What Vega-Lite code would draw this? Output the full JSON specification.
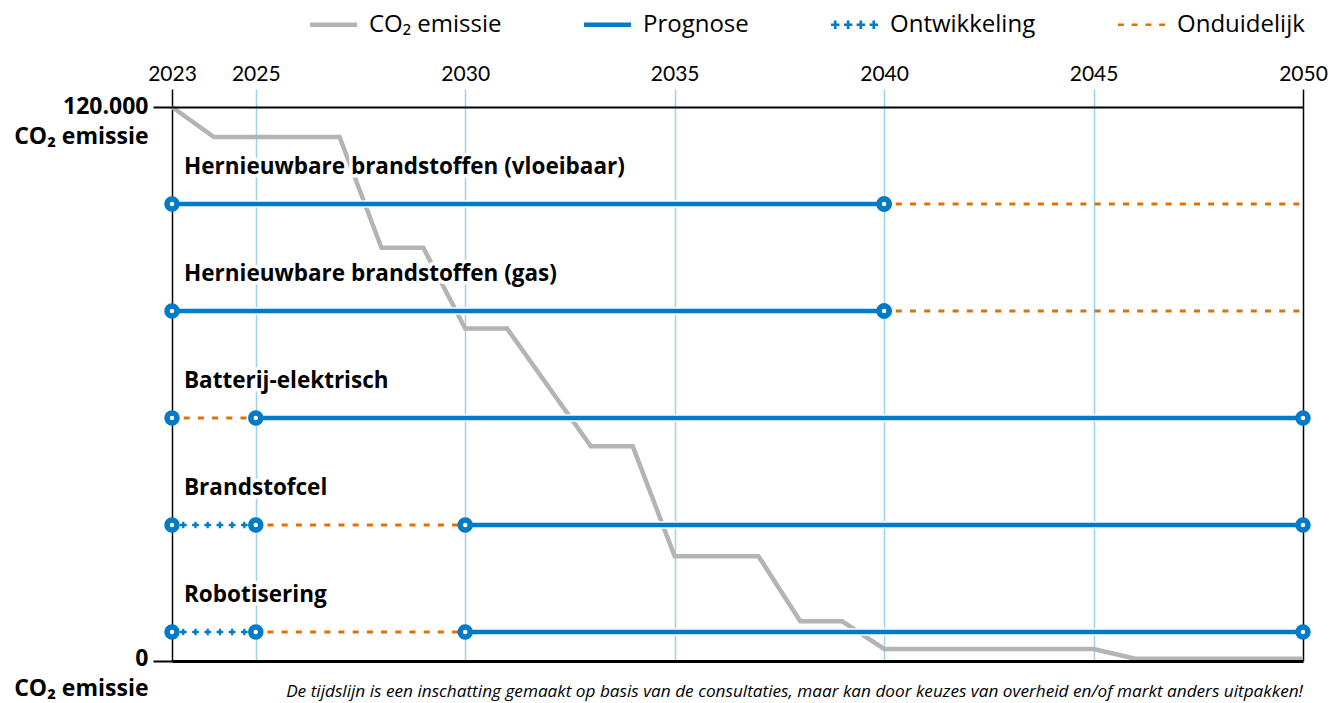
{
  "$schema": "https://vega.github.io/schema/vega-lite/v6.json",
  "width": 1131,
  "height": 554,
  "autosize": {"type": "none"},
  "padding": {"left": 172, "top": 107, "right": 27, "bottom": 42},
  "background": "white",
  "config": {"view": {"stroke": null}, "font": "Open Sans"},
  "datasets": {
    "emissie": [
      {"jaar": 2023, "co2": 120000, "reeks": "CO₂ emissie"},
      {"jaar": 2024, "co2": 113500, "reeks": "CO₂ emissie"},
      {"jaar": 2027, "co2": 113500, "reeks": "CO₂ emissie"},
      {"jaar": 2028, "co2": 89500, "reeks": "CO₂ emissie"},
      {"jaar": 2029, "co2": 89500, "reeks": "CO₂ emissie"},
      {"jaar": 2030, "co2": 72000, "reeks": "CO₂ emissie"},
      {"jaar": 2031, "co2": 72000, "reeks": "CO₂ emissie"},
      {"jaar": 2033, "co2": 46500, "reeks": "CO₂ emissie"},
      {"jaar": 2034, "co2": 46500, "reeks": "CO₂ emissie"},
      {"jaar": 2035, "co2": 22700, "reeks": "CO₂ emissie"},
      {"jaar": 2037, "co2": 22700, "reeks": "CO₂ emissie"},
      {"jaar": 2038, "co2": 8600, "reeks": "CO₂ emissie"},
      {"jaar": 2039, "co2": 8600, "reeks": "CO₂ emissie"},
      {"jaar": 2040, "co2": 2600, "reeks": "CO₂ emissie"},
      {"jaar": 2045, "co2": 2600, "reeks": "CO₂ emissie"},
      {"jaar": 2046, "co2": 500, "reeks": "CO₂ emissie"},
      {"jaar": 2050, "co2": 500, "reeks": "CO₂ emissie"}
    ],
    "segmenten": [
      {"categorie": "Hernieuwbare brandstoffen (vloeibaar)", "van": 2023, "tot": 2040, "status": "Prognose"},
      {"categorie": "Hernieuwbare brandstoffen (vloeibaar)", "van": 2040, "tot": 2050, "status": "Onduidelijk"},
      {"categorie": "Hernieuwbare brandstoffen (gas)", "van": 2023, "tot": 2040, "status": "Prognose"},
      {"categorie": "Hernieuwbare brandstoffen (gas)", "van": 2040, "tot": 2050, "status": "Onduidelijk"},
      {"categorie": "Batterij-elektrisch", "van": 2023, "tot": 2025, "status": "Onduidelijk"},
      {"categorie": "Batterij-elektrisch", "van": 2025, "tot": 2050, "status": "Prognose"},
      {"categorie": "Brandstofcel", "van": 2023, "tot": 2025, "status": "Ontwikkeling"},
      {"categorie": "Brandstofcel", "van": 2025, "tot": 2030, "status": "Onduidelijk"},
      {"categorie": "Brandstofcel", "van": 2030, "tot": 2050, "status": "Prognose"},
      {"categorie": "Robotisering", "van": 2023, "tot": 2025, "status": "Ontwikkeling"},
      {"categorie": "Robotisering", "van": 2025, "tot": 2030, "status": "Onduidelijk"},
      {"categorie": "Robotisering", "van": 2030, "tot": 2050, "status": "Prognose"}
    ]
  },
  "layer": [
    {
      "layer": [
        {
          "data": {"name": "emissie"},
          "mark": {"type": "line", "strokeWidth": 4.5, "strokeJoin": "miter", "strokeCap": "butt"},
          "encoding": {
            "x": {
              "field": "jaar",
              "type": "quantitative",
              "scale": {"domain": [2023, 2050], "nice": false, "zero": false},
              "axis": {
                "orient": "top",
                "values": [2023, 2025, 2030, 2035, 2040, 2045, 2050],
                "format": "d",
                "title": null,
                "labelFlush": false,
                "labelFont": "Lato",
                "labelFontSize": 21,
                "labelColor": "black",
                "labelBaseline": "alphabetic",
                "labelPadding": 9,
                "tickSize": 18,
                "tickWidth": 1.5,
                "tickColor": {"condition": {"test": "datum.value == 2023 || datum.value == 2050", "value": "black"}, "value": "#9dd2ec"},
                "grid": true,
                "gridWidth": 1.5,
                "gridColor": {"condition": {"test": "datum.value == 2023 || datum.value == 2050", "value": "black"}, "value": "#9dd2ec"},
                "domain": false,
                "zindex": 0
              }
            },
            "y": {
              "field": "co2",
              "type": "quantitative",
              "scale": {"domain": [0, 120000], "nice": false, "zero": true},
              "axis": {
                "values": [0, 120000],
                "title": null,
                "labelExpr": "datum.value == 0 ? ['0', 'CO₂ emissie'] : ['120.000', 'CO₂ emissie']",
                "labelFont": "Open Sans",
                "labelFontWeight": "bold",
                "labelFontSize": 23,
                "labelColor": "black",
                "labelAlign": "right",
                "labelBaseline": "top",
                "labelLineHeight": 30,
                "labelOffset": {"condition": {"test": "datum.value == 0", "value": -14}, "value": -12},
                "labelPadding": 5,
                "labelOverlap": false,
                "labelBound": false,
                "labelFlush": false,
                "tickSize": 19,
                "tickWidth": 2,
                "tickColor": "black",
                "grid": true,
                "gridColor": "black",
                "gridWidth": {"condition": {"test": "datum.value == 0", "value": 3}, "value": 2},
                "domain": false,
                "zindex": 1
              }
            },
            "color": {
              "field": "reeks",
              "type": "nominal",
              "scale": {
                "domain": ["CO₂ emissie", "Prognose", "Ontwikkeling", "Onduidelijk"],
                "range": ["#b4b4b4", "#007bc7", "#007bc7", "#e17000"]
              },
              "legend": {
                "title": null,
                "orient": "none",
                "legendX": 138,
                "legendY": -106,
                "direction": "horizontal",
                "padding": 0,
                "symbolSize": 2209,
                "symbolType": "stroke",
                "labelFont": "Open Sans",
                "labelFontSize": 24,
                "labelColor": "black",
                "labelOffset": 12,
                "columnPadding": 82,
                "labelLimit": 300,
                "encode": {
                  "symbols": {
                    "update": {
                      "shape": {"signal": "datum.value === 'Ontwikkeling' ? 'M-1,-0.057L-0.64,-0.057L-0.64,0.057L-1,0.057Z M-0.877,-0.18L-0.763,-0.18L-0.763,0.18L-0.877,0.18Z M-0.45,-0.057L-0.09,-0.057L-0.09,0.057L-0.45,0.057Z M-0.327,-0.18L-0.213,-0.18L-0.213,0.18L-0.327,0.18Z M0.09,-0.057L0.45,-0.057L0.45,0.057L0.09,0.057Z M0.213,-0.18L0.327,-0.18L0.327,0.18L0.213,0.18Z M0.64,-0.057L1,-0.057L1,0.057L0.64,0.057Z M0.763,-0.18L0.877,-0.18L0.877,0.18L0.763,0.18Z' : datum.value === 'Onduidelijk' ? 'M-1,-0.055L-0.75,-0.055L-0.75,0.055L-1,0.055Z M-0.42,-0.055L-0.17,-0.055L-0.17,0.055L-0.42,0.055Z M0.17,-0.055L0.42,-0.055L0.42,0.055L0.17,0.055Z M0.75,-0.055L1,-0.055L1,0.055L0.75,0.055Z' : 'M-1,-0.1L1,-0.1L1,0.1L-1,0.1Z'"},
                      "fill": {"signal": "datum.value === 'CO₂ emissie' ? '#b4b4b4' : datum.value === 'Onduidelijk' ? '#e17000' : '#007bc7'"},
                      "stroke": {"value": "transparent"},
                      "strokeWidth": {"value": 0},
                      "opacity": {"value": 1}
                    }
                  }
                }
              }
            }
          }
        },
        {
          "data": {"values": [{"tekst": "De tijdslijn is een inschatting gemaakt op basis van de consultaties, maar kan door keuzes van overheid en/of markt anders uitpakken!"}]},
          "mark": {"type": "text", "align": "right", "baseline": "alphabetic", "dy": 36, "font": "Open Sans", "fontStyle": "italic", "fontSize": 17.2, "fill": "black"},
          "encoding": {
            "x": {"datum": 2050, "type": "quantitative"},
            "y": {"datum": 0, "type": "quantitative"},
            "text": {"field": "tekst"}
          }
        }
      ]
    },
    {
      "data": {"name": "segmenten"},
      "encoding": {
        "y": {
          "field": "categorie",
          "type": "nominal",
          "scale": {
            "type": "point",
            "domain": ["Hernieuwbare brandstoffen (vloeibaar)", "Hernieuwbare brandstoffen (gas)", "Batterij-elektrisch", "Brandstofcel", "Robotisering"],
            "range": [97, 525],
            "padding": 0
          },
          "axis": null
        }
      },
      "layer": [
        {
          "transform": [{"filter": "datum.status === 'Prognose'"}],
          "mark": {"type": "rule", "stroke": "white", "strokeWidth": 7.5, "strokeCap": "butt"},
          "encoding": {"x": {"field": "van", "type": "quantitative"}, "x2": {"field": "tot"}}
        },
        {
          "transform": [{"filter": "datum.status === 'Prognose'"}],
          "mark": {"type": "rule", "stroke": "#007bc7", "strokeWidth": 4.5, "strokeCap": "butt"},
          "encoding": {"x": {"field": "van", "type": "quantitative"}, "x2": {"field": "tot"}}
        },
        {
          "transform": [{"filter": "datum.status === 'Onduidelijk'"}],
          "mark": {"type": "rule", "stroke": "#e17000", "strokeWidth": 2.8, "strokeCap": "butt", "strokeDash": [6, 8.2], "strokeDashOffset": 2.5},
          "encoding": {"x": {"field": "van", "type": "quantitative"}, "x2": {"field": "tot"}}
        },
        {
          "transform": [{"filter": "datum.status === 'Ontwikkeling'"}],
          "mark": {"type": "rule", "stroke": "#007bc7", "strokeWidth": 2.3, "strokeCap": "butt", "strokeDash": [6.7, 5.5], "strokeDashOffset": 4.25},
          "encoding": {"x": {"field": "van", "type": "quantitative"}, "x2": {"field": "tot"}}
        },
        {
          "transform": [{"filter": "datum.status === 'Ontwikkeling'"}],
          "mark": {"type": "rule", "stroke": "#007bc7", "strokeWidth": 6.7, "strokeCap": "butt", "strokeDash": [2.3, 9.9], "strokeDashOffset": 2.05},
          "encoding": {"x": {"field": "van", "type": "quantitative"}, "x2": {"field": "tot"}}
        },
        {
          "mark": {"type": "point", "shape": "circle", "filled": true, "fill": "white", "stroke": "#007bc7", "strokeWidth": 5.5, "size": 100, "opacity": 1},
          "encoding": {"x": {"field": "van", "type": "quantitative"}}
        },
        {
          "transform": [{"filter": "datum.status === 'Prognose'"}],
          "mark": {"type": "point", "shape": "circle", "filled": true, "fill": "white", "stroke": "#007bc7", "strokeWidth": 5.5, "size": 100, "opacity": 1},
          "encoding": {"x": {"field": "tot", "type": "quantitative"}}
        },
        {
          "transform": [{"filter": "datum.van == 2023"}],
          "mark": {"type": "text", "align": "left", "baseline": "alphabetic", "dx": 12, "dy": -30, "font": "Open Sans", "fontWeight": "bold", "fontSize": 22.5, "fill": "white", "stroke": "white", "strokeWidth": 7, "strokeJoin": "round"},
          "encoding": {"x": {"datum": 2023, "type": "quantitative"}, "text": {"field": "categorie"}}
        },
        {
          "transform": [{"filter": "datum.van == 2023"}],
          "mark": {"type": "text", "align": "left", "baseline": "alphabetic", "dx": 12, "dy": -30, "font": "Open Sans", "fontWeight": "bold", "fontSize": 22.5, "fill": "black"},
          "encoding": {"x": {"datum": 2023, "type": "quantitative"}, "text": {"field": "categorie"}}
        }
      ]
    }
  ],
  "resolve": {"scale": {"y": "independent"}, "axis": {"y": "independent"}}
}
